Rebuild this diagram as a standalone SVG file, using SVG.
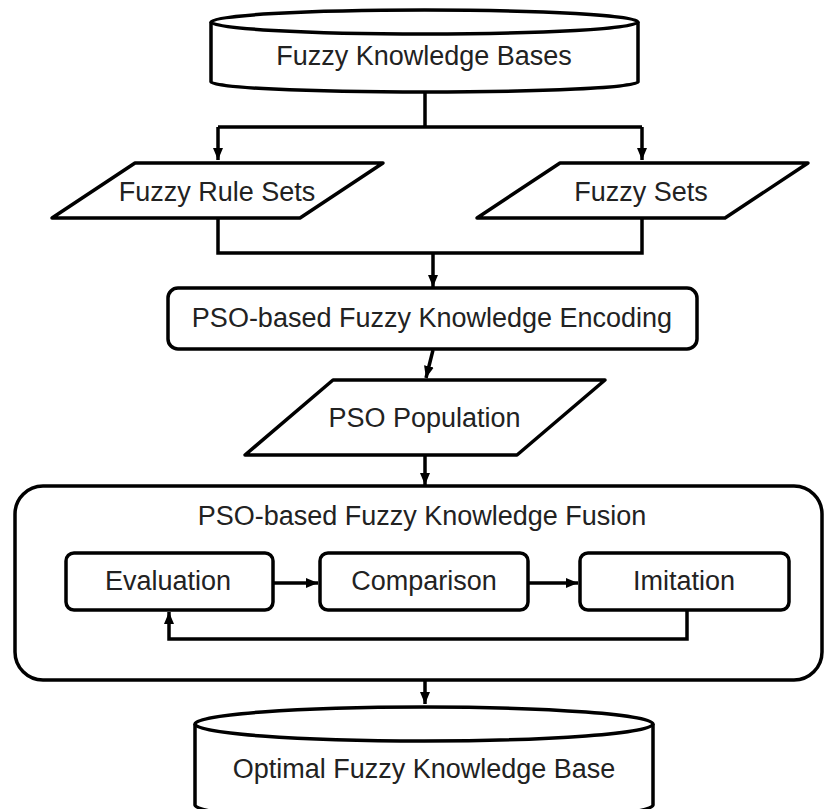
<svg xmlns="http://www.w3.org/2000/svg" width="825" height="809" viewBox="0 0 825 809">
<defs>
<marker id="ah" viewBox="0 0 12 12" refX="12" refY="6" markerWidth="12" markerHeight="12" markerUnits="userSpaceOnUse" orient="auto">
<path d="M0,1 L12,6 L0,11 Z" fill="#000"/>
</marker>
<style>
.s{fill:#fff;stroke:#000;stroke-width:3.5;stroke-linejoin:round}
.c{fill:none;stroke:#000;stroke-width:3.5}
.t{font-family:"Liberation Sans",Arial,sans-serif;font-size:27px;fill:#222;text-anchor:middle}
</style>
</defs>
<rect width="825" height="809" fill="#fff"/>
<g id="connectors">
<path class="c" d="M425,92 V127 M218,127 H642"/>
<path class="c" d="M218,127 V160" marker-end="url(#ah)"/>
<path class="c" d="M642,127 V160" marker-end="url(#ah)"/>
<path class="c" d="M218,218 V253 H642 V218"/>
<path class="c" d="M433,253 V287" marker-end="url(#ah)"/>
<path class="c" d="M433,350 L426,378" marker-end="url(#ah)"/>
<path class="c" d="M425,455 V485" marker-end="url(#ah)"/>
<path class="c" d="M425,680 V704" marker-end="url(#ah)"/>
</g>
<g id="fuzzy-knowledge-bases">
<path class="s" d="M211,22 V82 A213.5,10 0 0 0 638,82 V22"/>
<ellipse class="s" cx="424.5" cy="22" rx="213.5" ry="12"/>
<text class="t" x="424" y="65">Fuzzy Knowledge Bases</text>
</g>
<g id="fuzzy-rule-sets">
<polygon class="s" points="135,163 383,163 300,218 52,218"/>
<text class="t" x="217" y="201">Fuzzy Rule Sets</text>
</g>
<g id="fuzzy-sets">
<polygon class="s" points="560,163 808,163 725,218 477,218"/>
<text class="t" x="641" y="201">Fuzzy Sets</text>
</g>
<g id="encoding">
<rect class="s" x="168" y="288" width="529" height="61" rx="10"/>
<text class="t" x="432" y="327">PSO-based Fuzzy Knowledge Encoding</text>
</g>
<g id="pso-population">
<polygon class="s" points="333,380 605,380 517,455 245,455"/>
<text class="t" x="424.5" y="427">PSO Population</text>
</g>
<g id="fusion">
<rect class="s" x="15" y="486" width="807" height="194" rx="28"/>
<text class="t" x="422" y="525">PSO-based Fuzzy Knowledge Fusion</text>
</g>
<g id="evaluation">
<rect class="s" x="66" y="553" width="207" height="57" rx="8"/>
<text class="t" x="168" y="590">Evaluation</text>
</g>
<g id="comparison">
<rect class="s" x="320" y="553" width="208" height="57" rx="8"/>
<text class="t" x="424" y="590">Comparison</text>
</g>
<g id="imitation">
<rect class="s" x="580" y="553" width="209" height="57" rx="8"/>
<text class="t" x="684" y="590">Imitation</text>
</g>
<g id="inner-connectors">
<path class="c" d="M273,583 H318" marker-end="url(#ah)"/>
<path class="c" d="M528,583 H578" marker-end="url(#ah)"/>
<path class="c" d="M687,610 V639 H169 V612" marker-end="url(#ah)"/>
</g>
<g id="optimal-fuzzy-knowledge-base">
<path class="s" d="M195,724 V805 A229,17 0 0 0 653,805 V724"/>
<ellipse class="s" cx="424" cy="724" rx="229" ry="17"/>
<text class="t" x="424" y="778">Optimal Fuzzy Knowledge Base</text>
</g>
</svg>
